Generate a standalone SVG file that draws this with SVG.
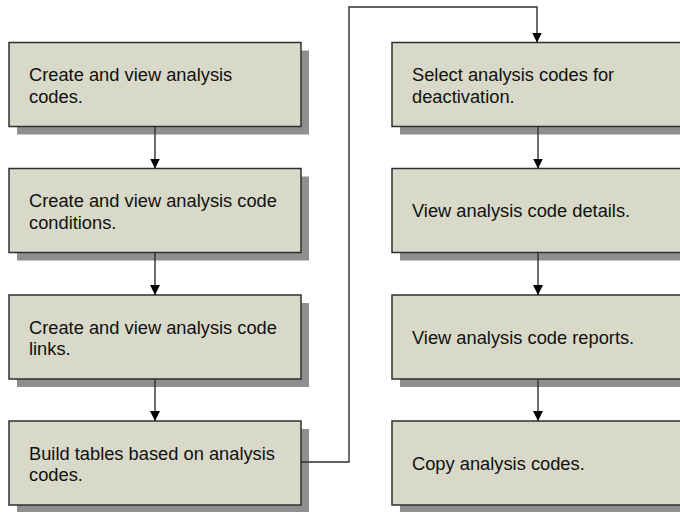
<svg xmlns="http://www.w3.org/2000/svg" width="680" height="512" viewBox="0 0 680 512">
<style>
.box{fill:#d8d9c8;stroke:#2f2f2f;stroke-width:1.5}
.sh{fill:#8f8f8f}
.t{font-family:"Liberation Sans",Arial,sans-serif;font-size:18.3px;fill:#111}
.c{fill:none;stroke:#2f2f2f;stroke-width:1.4}
</style>
<defs>
<marker id="ah" viewBox="0 0 10 10" refX="10" refY="5" markerWidth="10" markerHeight="10" markerUnits="userSpaceOnUse" orient="auto">
<path d="M0,0 L10,5 L0,10 z" fill="#000"/>
</marker>
</defs>
<rect width="680" height="512" fill="#fff"/>
<g id="n1">
<rect class="sh" x="17" y="50.5" width="292" height="84"/>
<rect class="box" x="9" y="42.5" width="292" height="84"/>
<text class="t" x="29" y="81">Create and view analysis</text>
<text class="t" x="29" y="102.6">codes.</text>
</g>
<g id="n2">
<rect class="sh" x="17" y="176.5" width="292" height="84"/>
<rect class="box" x="9" y="168.5" width="292" height="84"/>
<text class="t" x="29" y="207">Create and view analysis code</text>
<text class="t" x="29" y="228.6">conditions.</text>
</g>
<g id="n3">
<rect class="sh" x="17" y="303" width="292" height="84"/>
<rect class="box" x="9" y="295" width="292" height="84"/>
<text class="t" x="29" y="333.5">Create and view analysis code</text>
<text class="t" x="29" y="355.1">links.</text>
</g>
<g id="n4">
<rect class="sh" x="17" y="429" width="292" height="84"/>
<rect class="box" x="9" y="421" width="292" height="84"/>
<text class="t" x="29" y="459.5">Build tables based on analysis</text>
<text class="t" x="29" y="481.1">codes.</text>
</g>
<g id="n5">
<rect class="sh" x="400" y="50.5" width="292" height="84"/>
<rect class="box" x="392" y="42.5" width="292" height="84"/>
<text class="t" x="412" y="81">Select analysis codes for</text>
<text class="t" x="412" y="102.6">deactivation.</text>
</g>
<g id="n6">
<rect class="sh" x="400" y="176.5" width="292" height="84"/>
<rect class="box" x="392" y="168.5" width="292" height="84"/>
<text class="t" x="412" y="217">View analysis code details.</text>
</g>
<g id="n7">
<rect class="sh" x="400" y="303" width="292" height="84"/>
<rect class="box" x="392" y="295" width="292" height="84"/>
<text class="t" x="412" y="343.5">View analysis code reports.</text>
</g>
<g id="n8">
<rect class="sh" x="400" y="429" width="292" height="84"/>
<rect class="box" x="392" y="421" width="292" height="84"/>
<text class="t" x="412" y="469.5">Copy analysis codes.</text>
</g>
<g id="connectors">
<path class="c" d="M155,126.5 V168.5" marker-end="url(#ah)"/>
<path class="c" d="M155,252.5 V295" marker-end="url(#ah)"/>
<path class="c" d="M155,379 V421" marker-end="url(#ah)"/>
<path class="c" d="M301,462 H349 V7 H537 V42.5" marker-end="url(#ah)"/>
<path class="c" d="M538,126.5 V168.5" marker-end="url(#ah)"/>
<path class="c" d="M538,252.5 V295" marker-end="url(#ah)"/>
<path class="c" d="M538,379 V421" marker-end="url(#ah)"/>
</g>
</svg>
